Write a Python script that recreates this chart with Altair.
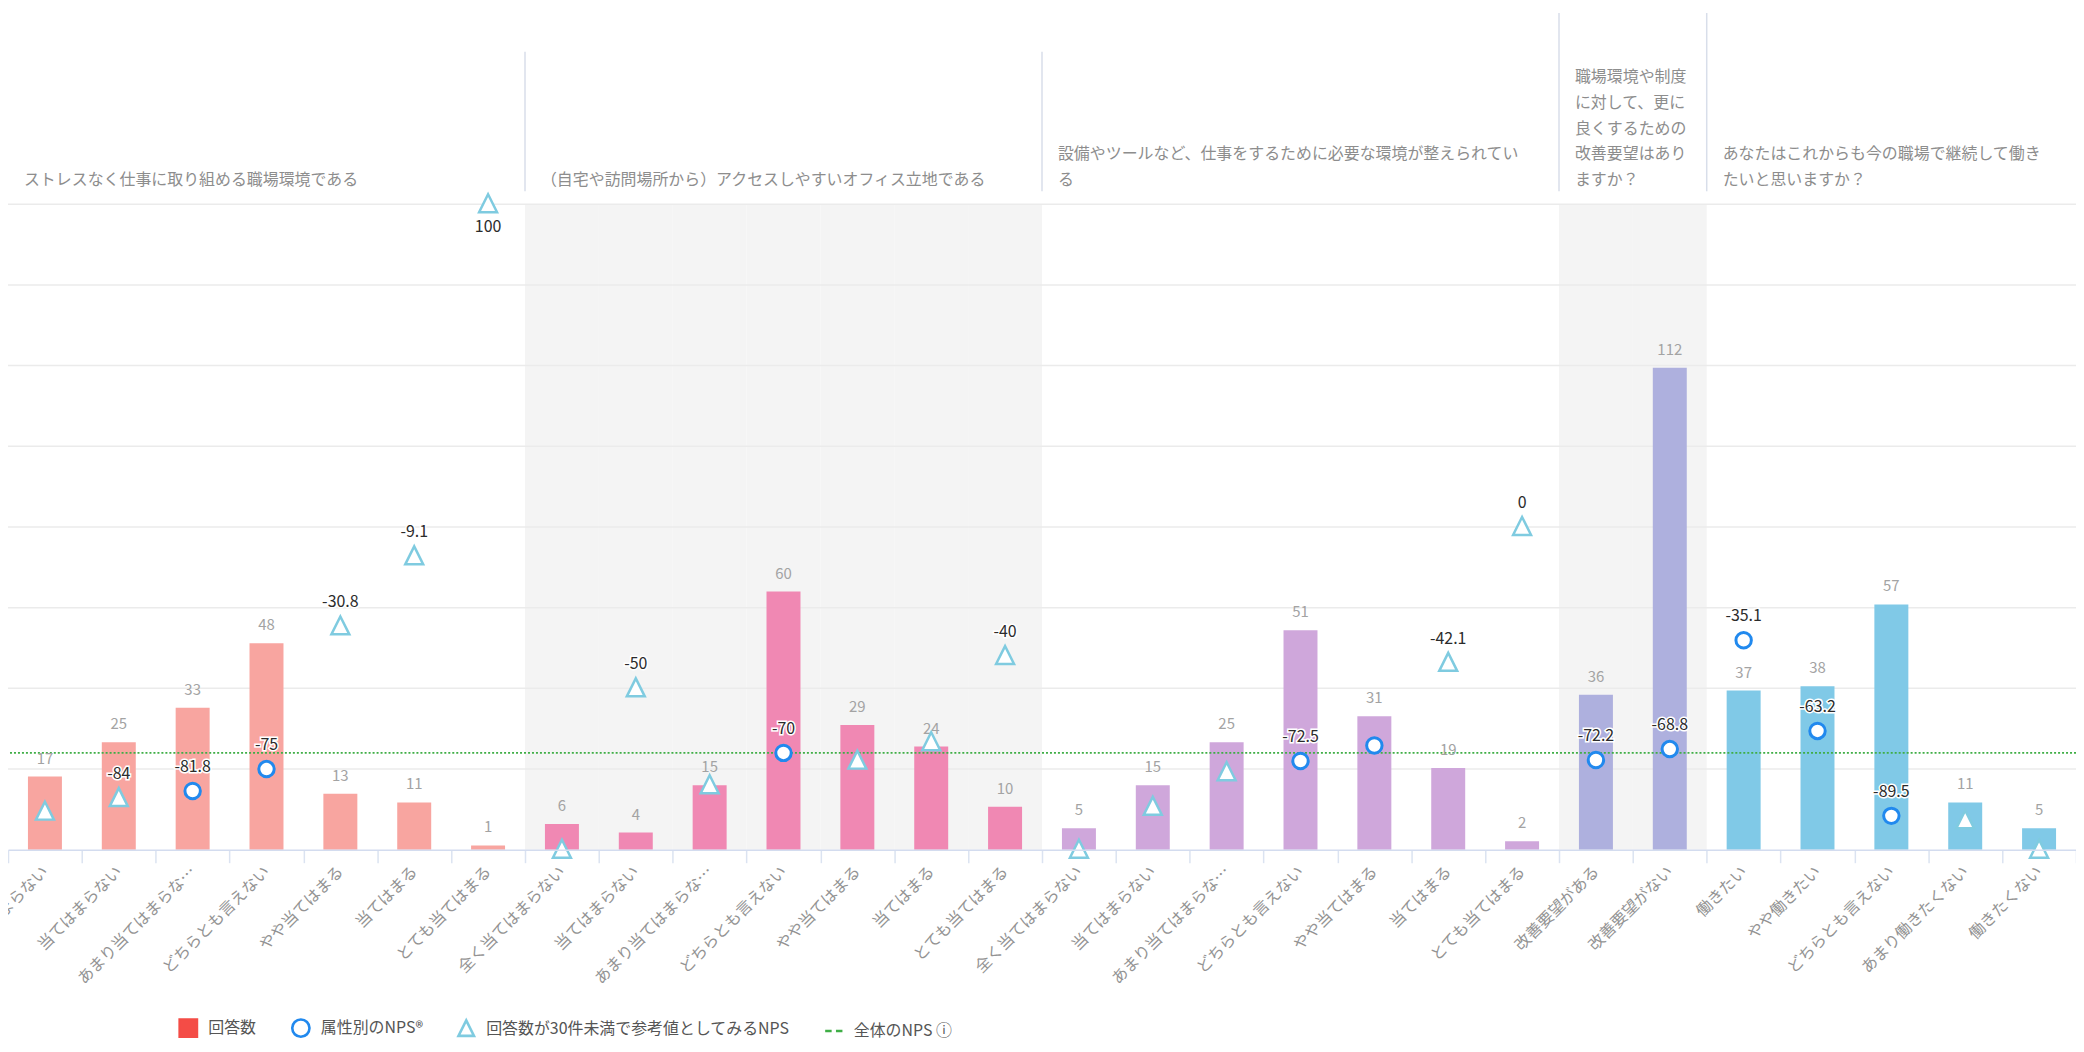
import json
import altair as alt
import pandas as pd

# ---------------- data ----------------
group_titles = [
    "ストレスなく仕事に取り組める職場環境である",
    "（自宅や訪問場所から）アクセスしやすいオフィス立地である",
    "設備やツールなど、仕事をするために必要な環境が整えられてい\nる",
    "職場環境や制度\nに対して、更に\n良くするための\n改善要望はあり\nますか？",
    "あなたはこれからも今の職場で継続して働き\nたいと思いますか？",
]
agree7 = ["全く当てはまらない", "当てはまらない", "あまり当てはまらない", "どちらとも言えない",
          "やや当てはまる", "当てはまる", "とても当てはまる"]
categories = [
    agree7,
    agree7,
    agree7,
    ["改善要望がある", "改善要望がない"],
    ["働きたい", "やや働きたい", "どちらとも言えない", "あまり働きたくない", "働きたくない"],
]
counts = [
    [17, 25, 33, 48, 13, 11, 1],
    [6, 4, 15, 60, 29, 24, 10],
    [5, 15, 25, 51, 31, 19, 2],
    [36, 112],
    [37, 38, 57, 11, 5],
]
nps = [
    [-88.2, -84, -81.8, -75, -30.8, -9.1, 100],
    [-100, -50, -80, -70, -72.4, -66.7, -40],
    [-100, -86.7, -76, -72.5, -67.7, -42.1, 0],
    [-72.2, -68.8],
    [-35.1, -63.2, -89.5, -90.9, -100],
]
nps_label_shown = [
    [0, 1, 1, 1, 1, 1, 1],
    [0, 1, 0, 1, 0, 0, 1],
    [0, 0, 0, 1, 0, 1, 1],
    [1, 1],
    [1, 1, 1, 0, 0],
]
overall_nps = -70
grid_values = [-75, -50, -25, 0, 25, 50, 75, 100]
legend_items = ["回答数", "属性別のNPS®", "回答数が30件未満で参考値としてみるNPS", "全体のNPS  ⓘ"]
threshold = 30

bar_colors = ["#f8a5a0", "#f088b3", "#cfa7db", "#aeb0de", "#80c9e7"]

# ---------------- build tables ----------------
rows = []
headers = []
header_lines = []
idx = 0
for gi, cats in enumerate(categories):
    lines = group_titles[gi].split("\n")
    headers.append({"group": gi, "first": idx, "lines": len(lines)})
    for li, t in enumerate(lines):
        header_lines.append({"group": gi, "first": idx, "text": t, "k": len(lines) - 1 - li})
    for ci, c in enumerate(cats):
        v = nps[gi][ci]
        rows.append({
            "idx": idx, "group": gi, "cat": c, "count": counts[gi][ci], "nps": v,
            "kind": "circle" if counts[gi][ci] >= threshold else "tri",
            "nps_text": (f"{v:g}" if nps_label_shown[gi][ci] else ""),
            "shade": gi % 2 == 1,
        })
        idx += 1
n = idx
df = pd.DataFrame(rows)
for h in headers:
    prev_lines = headers[h["group"] - 1]["lines"] if h["group"] > 0 else 0
    h["tall"] = max(prev_lines, h["lines"]) >= 3
hdf = pd.DataFrame(headers)
hl_df = pd.DataFrame(header_lines)
sep_df = hdf[hdf["group"] > 0]

axis_labels = [c if len(c) <= 9 else c[:9] + "…" for c in df["cat"]]
label_expr = json.dumps(axis_labels, ensure_ascii=False) + "[datum.value]"

FONT = "Noto Sans CJK JP"
W, H = 2076, 648
LINE_H = 26

xscale = alt.Scale(type="band", domain=list(range(n)), paddingInner=0, paddingOuter=0)
xaxis = alt.Axis(
    title=None, labelExpr=label_expr, labelAngle=315, labelAlign="right",
    labelBaseline="middle", labelFontSize=16, labelFont=FONT, labelColor="#939393",
    labelPadding=6, labelOverlap=False, labelLimit=400, tickBand="extent", tickSize=13,
    tickColor="#dbe3f1", tickWidth=1.5, domainColor="#d3dcef", domainWidth=1.5, grid=False,
)
X = alt.X("idx:O", scale=xscale, axis=xaxis)
X_first0 = alt.X("first:O", scale=xscale, axis=xaxis, bandPosition=0)

npsY = lambda f: alt.Y(f, scale=alt.Scale(domain=[-100, 100], nice=False, zero=False), axis=None)
cntY = alt.Y("count:Q", scale=alt.Scale(domain=[0, 150], nice=False), axis=None)

base = alt.Chart(df)

background = base.transform_filter("datum.shade").transform_calculate(
    top="100", bottom="-100").mark_rect(color="#f4f4f4").encode(
    x=X, y=npsY("top:Q"), y2="bottom:Q")

grid = alt.Chart(pd.DataFrame({"v": grid_values})).mark_rule(
    color="#ebebeb", strokeWidth=1.5).encode(y=npsY("v:Q"))

bars = base.mark_bar(width=alt.RelativeBandSize(0.46)).encode(
    x=X, y=cntY,
    color=alt.Color("group:N", scale=alt.Scale(domain=list(range(5)), range=bar_colors), legend=None),
)

overall = alt.Chart(pd.DataFrame({"v": [overall_nps]})).mark_rule(
    color="#3fae46", strokeWidth=1.8, strokeDash=[2, 2]).encode(y=npsY("v:Q"))

bar_labels = base.mark_text(baseline="bottom", dy=-10, fontSize=15, font=FONT, color="#a3a3a3").encode(
    x=X, y=cntY, text="count:Q")

circles = base.transform_filter("datum.kind == 'circle'").mark_point(
    shape="circle", size=240, filled=False, fill="white", stroke="#2189ee", strokeWidth=3, opacity=1
).encode(x=X, y=npsY("nps:Q"))

tris = base.transform_filter("datum.kind == 'tri'").mark_point(
    shape="M0,-1L0.9,0.8L-0.9,0.8Z", size=400, filled=False, fill="white", stroke="#7fcbe0",
    strokeWidth=2.5, opacity=1
).encode(x=X, y=npsY("nps:Q"))

lab_up = base.transform_filter("datum.nps_text != '' && datum.nps < 90")
lab_dn = base.transform_filter("datum.nps_text != '' && datum.nps >= 90")
nps_halo_up = lab_up.mark_text(baseline="bottom", dy=-16, fontSize=16, font=FONT, color="white",
                               stroke="white", strokeWidth=3).encode(x=X, y=npsY("nps:Q"), text="nps_text:N")
nps_text_up = lab_up.mark_text(baseline="bottom", dy=-16, fontSize=16, font=FONT, color="#2b2b2b").encode(
    x=X, y=npsY("nps:Q"), text="nps_text:N")
nps_text_dn = lab_dn.mark_text(baseline="top", dy=15, fontSize=16, font=FONT, color="#2b2b2b").encode(
    x=X, y=npsY("nps:Q"), text="nps_text:N")

header_text = alt.Chart(hl_df).mark_text(
    align="left", baseline="bottom", fontSize=16, font=FONT, color="#8d8d8d", dx=16).encode(
    x=X_first0,
    y=alt.Y("k:Q", scale=alt.Scale(domain=[0, 1], range=[-16, -16 - LINE_H], nice=False, zero=False), axis=None),
    text="text:N")

sep_tall = alt.Chart(sep_df).transform_filter("datum.tall").mark_rule(
    color="#d8deea", strokeWidth=1.5).encode(x=X_first0, y=alt.value(-192), y2=alt.value(-13))
sep_short = alt.Chart(sep_df).transform_filter("!datum.tall").mark_rule(
    color="#d8deea", strokeWidth=1.5).encode(x=X_first0, y=alt.value(-153), y2=alt.value(-13))

tri_path = "M0,-1L0.9,0.8L-0.9,0.8Z"
dash_path = "M-1,0H-0.25M0.25,0H1"
legend = alt.Legend(
    orient="none", legendX=171, legendY=817, direction="horizontal", title=None,
    labelFontSize=16, labelFont=FONT, labelColor="#555555", symbolSize=300,
    symbolStrokeWidth=2.6, symbolOpacity=1, columnPadding=30, labelOffset=10, padding=0, labelLimit=600,
)
leg_layer = alt.Chart(pd.DataFrame({"item": legend_items})).transform_filter("false").mark_point(
    filled=True, opacity=1).encode(
    shape=alt.Shape("item:N", scale=alt.Scale(domain=legend_items,
                                              range=["square", "circle", tri_path, dash_path]), legend=legend),
    fill=alt.Fill("item:N", scale=alt.Scale(domain=legend_items,
                                            range=["#f44c46", "white", "white", "transparent"]), legend=legend),
    stroke=alt.Stroke("item:N", scale=alt.Scale(domain=legend_items,
                                                range=["#f44c46", "#2189ee", "#7fcbe0", "#3fae46"]), legend=legend),
)

chart = alt.layer(
    background, grid, bars, overall, bar_labels, circles, tris,
    nps_halo_up, nps_text_up, nps_text_dn, header_text, sep_tall, sep_short, leg_layer,
).resolve_scale(y="independent").properties(
    width=W, height=H,
    autosize=alt.AutoSizeParams(type="none"),
    padding={"top": 195, "left": 0, "right": 0, "bottom": 189},
).configure_view(stroke=None)

chart.save("out.html", embed_options={"renderer": "svg", "actions": False})
